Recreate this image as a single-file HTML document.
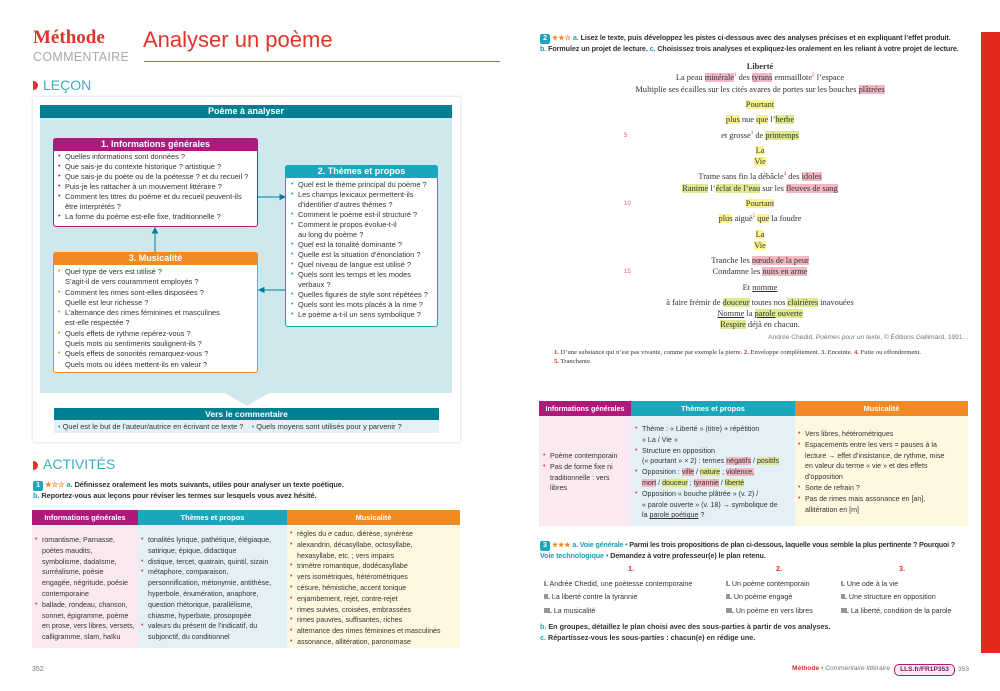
<!DOCTYPE html>
<html><head><meta charset="utf-8">
<style>
*{margin:0;padding:0;box-sizing:border-box}
body{width:1000px;height:691px;background:#fff;position:relative;overflow:hidden;font-family:"Liberation Sans",sans-serif;color:#333}
.a{position:absolute}
.s{font-size:7.4px;line-height:10px;color:#333}
.x{white-space:nowrap}
.nw li{white-space:nowrap}
ul{list-style:none}
li{position:relative;padding-left:7px}
li:before{content:"•";position:absolute;left:0;font-size:7px}
.m li:before{color:#b0197c}.t li:before{color:#1a9fb5}.o li:before{color:#f08a24}.r li:before{color:#e53b3b}
.hd{color:#fff;font-weight:bold;text-align:center}
.serif{font-family:"Liberation Serif",serif;font-size:8.4px;color:#333}
.pl{position:absolute;left:540px;width:440px;text-align:center}
.y{background:#fbf48e}.g{background:#dfe98f}.p{background:#f2b8c3}
.b{font-weight:bold}
.tc{color:#1a9fb5}
.ln{position:absolute;left:624px;font-size:6px;color:#d15a8d}
</style></head><body>

<div class="a" style="left:33px;top:27px;font-family:'Liberation Serif',serif;font-weight:bold;font-size:19px;color:#e2332a">Méthode</div>
<div class="a" style="left:33px;top:50px;font-size:12.5px;color:#aaa;letter-spacing:0.3px">COMMENTAIRE</div>
<div class="a" style="left:143px;top:27px;font-size:22px;color:#e2332a">Analyser un poème</div>
<div class="a" style="left:144px;top:61px;width:356px;height:1px;background:#e2554d"></div>
<div class="a" style="left:33px;top:81px;width:5px;height:9px;background:#e2332a;border-radius:0 5px 5px 0"></div>
<div class="a" style="left:43px;top:77px;font-size:14px;color:#3aaec2">LEÇON</div>

<div class="a" style="left:33px;top:97px;width:427px;height:345px;background:#fff;box-shadow:0 0 3px rgba(0,0,0,0.2)"></div>
<div class="a hd" style="left:40px;top:105px;width:412px;height:13px;background:#007f93;font-size:9px;line-height:13px">Poème à analyser</div>
<div class="a" style="left:40px;top:118px;width:412px;height:275px;background:#cfe8ee"></div>
<div class="a" style="left:225px;top:393px;width:0;height:0;border-left:22px solid transparent;border-right:22px solid transparent;border-top:13px solid #cfe8ee"></div>

<div class="a" style="left:53px;top:138px;width:205px;height:89px;background:#fff;border:1px solid #b0197c;border-radius:3px"></div>
<div class="a hd" style="left:53px;top:138px;width:205px;height:13px;background:#b0197c;font-size:9px;line-height:13px;border-radius:3px 3px 0 0">1. Informations générales</div>
<ul class="a s m" style="left:58px;top:152px;width:198px">
<li>Quelles informations sont données ?</li>
<li>Que sais-je du contexte historique ? artistique ?</li>
<li>Que sais-je du poète ou de la poétesse ? et du recueil ?</li>
<li>Puis-je les rattacher à un mouvement littéraire ?</li>
<li>Comment les titres du poème et du recueil peuvent-ils être interprétés ?</li>
<li>La forme du poème est-elle fixe, traditionnelle ?</li>
</ul>

<div class="a" style="left:285px;top:165px;width:153px;height:162px;background:#fff;border:1px solid #1a9fb5;border-radius:3px"></div>
<div class="a hd" style="left:285px;top:165px;width:153px;height:13px;background:#1aa6bd;font-size:9px;line-height:13px;border-radius:3px 3px 0 0">2. Thèmes et propos</div>
<ul class="a s t" style="left:291px;top:180px;width:146px">
<li>Quel est le thème principal du poème ?</li>
<li>Les champs lexicaux permettent-ils d’identifier d’autres thèmes ?</li>
<li>Comment le poème est-il structuré ?</li>
<li>Comment le propos évolue-t-il<br>au long du poème ?</li>
<li>Quel est la tonalité dominante ?</li>
<li>Quelle est la situation d’énonciation ?</li>
<li>Quel niveau de langue est utilisé ?</li>
<li>Quels sont les temps et les modes verbaux ?</li>
<li>Quelles figures de style sont répétées ?</li>
<li>Quels sont les mots placés à la rime ?</li>
<li>Le poème a-t-il un sens symbolique ?</li>
</ul>

<div class="a" style="left:53px;top:252px;width:205px;height:121px;background:#fff;border:1px solid #f08a24;border-radius:3px"></div>
<div class="a hd" style="left:53px;top:252px;width:205px;height:13px;background:#f08a24;font-size:9px;line-height:13px;border-radius:3px 3px 0 0">3. Musicalité</div>
<ul class="a s o" style="left:58px;top:267px;width:198px;line-height:10.3px">
<li>Quel type de vers est utilisé ?<br>S’agit-il de vers couramment employés ?</li>
<li>Comment les rimes sont-elles disposées ?<br>Quelle est leur richesse ?</li>
<li>L’alternance des rimes féminines et masculines<br>est-elle respectée ?</li>
<li>Quels effets de rythme repérez-vous ?<br>Quels mots ou sentiments soulignent-ils ?</li>
<li>Quels effets de sonorités remarquez-vous ?<br>Quels mots ou idées mettent-ils en valeur ?</li>
</ul>

<svg class="a" style="left:0;top:0" width="500" height="450">
<g stroke="#007f93" stroke-width="1" fill="#007f93">
<line x1="258" y1="197" x2="282" y2="197"/><polygon points="285,197 280,194.5 280,199.5"/>
<line x1="285" y1="290" x2="262" y2="290"/><polygon points="259,290 264,287.5 264,292.5"/>
<line x1="155" y1="252" x2="155" y2="231"/><polygon points="155,228 152.5,233 157.5,233"/>
</g></svg>

<div class="a hd" style="left:54px;top:408px;width:385px;height:12px;background:#007f93;font-size:8.5px;line-height:12px">Vers le commentaire</div>
<div class="a s" style="left:54px;top:420px;width:385px;height:13px;background:#e3f1f5;line-height:13px;padding-left:4px"><span style="color:#1a9fb5">•</span> Quel est le but de l’auteur/autrice en écrivant ce texte ? &nbsp;&nbsp;&nbsp;<span style="color:#1a9fb5">•</span> Quels moyens sont utilisés pour y parvenir ?</div>

<div class="a" style="left:33px;top:461px;width:5px;height:9px;background:#e2332a;border-radius:0 5px 5px 0"></div>
<div class="a" style="left:43px;top:456px;font-size:14px;color:#3aaec2">ACTIVITÉS</div>
<div class="a s b x" style="left:33px;top:480px;font-size:7.4px;letter-spacing:-0.1px"><span style="display:inline-block;width:10px;height:10px;background:#1aa6bd;color:#fff;text-align:center;border-radius:2px;font-size:7px;line-height:10px">1</span> <span style="color:#f08a24">★☆☆</span> <span class="tc">a.</span> Définissez oralement les mots suivants, utiles pour analyser un texte poétique.</div>
<div class="a s b x" style="left:33px;top:491px;font-size:7.4px;letter-spacing:-0.1px"><span class="tc">b.</span> Reportez-vous aux leçons pour réviser les termes sur lesquels vous avez hésité.</div>

<div class="a hd" style="left:32px;top:510px;width:106px;height:15px;background:#b0197c;font-size:7.4px;line-height:15px">Informations générales</div>
<div class="a hd" style="left:138px;top:510px;width:149px;height:15px;background:#1aa6bd;font-size:7.4px;line-height:15px">Thèmes et propos</div>
<div class="a hd" style="left:287px;top:510px;width:173px;height:15px;background:#f08a24;font-size:7.4px;line-height:15px">Musicalité</div>
<div class="a" style="left:32px;top:525px;width:106px;height:123px;background:#fbe9f2"></div>
<div class="a" style="left:138px;top:525px;width:149px;height:123px;background:#e3f1f7"></div>
<div class="a" style="left:287px;top:525px;width:173px;height:123px;background:#fdf9e0"></div>
<ul class="a s r nw" style="left:35px;top:535px;line-height:10.8px;font-size:7.1px">
<li>romantisme, Parnasse,<br>poètes maudits,<br>symbolisme, dadaïsme,<br>surréalisme, poésie<br>engagée, négritude, poésie<br>contemporaine</li>
<li>ballade, rondeau, chanson,<br>sonnet, épigramme, poème<br>en prose, vers libres, versets,<br>calligramme, slam, haïku</li>
</ul>
<ul class="a s r nw" style="left:141px;top:535px;line-height:10.8px;font-size:7.1px">
<li>tonalités lyrique, pathétique, élégiaque,<br>satirique, épique, didactique</li>
<li>distique, tercet, quatrain, quintil, sizain</li>
<li>métaphore, comparaison,<br>personnification, métonymie, antithèse,<br>hyperbole, énumération, anaphore,<br>question rhétorique, parallélisme,<br>chiasme, hyperbate, prosopopée</li>
<li>valeurs du présent de l’indicatif, du<br>subjonctif, du conditionnel</li>
</ul>
<ul class="a s r nw" style="left:290px;top:529px;line-height:10.8px;font-size:7.1px">
<li>règles du <i>e</i> caduc, diérèse, synérèse</li>
<li>alexandrin, décasyllabe, octosyllabe,<br>hexasyllabe, etc. ; vers impairs</li>
<li>trimètre romantique, dodécasyllabe</li>
<li>vers isométriques, hétérométriques</li>
<li>césure, hémistiche, accent tonique</li>
<li>enjambement, rejet, contre-rejet</li>
<li>rimes suivies, croisées, embrassées</li>
<li>rimes pauvres, suffisantes, riches</li>
<li>alternance des rimes féminines et masculines</li>
<li>assonance, allitération, paronomase</li>
</ul>
<div class="a" style="left:32px;top:666px;font-size:7px;color:#777">352</div>

<div class="a" style="left:981px;top:32px;width:19px;height:621px;background:#e2291b"></div>
<div class="a s b x" style="left:540px;top:33px;font-size:7.2px;letter-spacing:-0.1px"><span style="display:inline-block;width:10px;height:10px;background:#1aa6bd;color:#fff;text-align:center;border-radius:2px;font-size:7px;line-height:10px">2</span> <span style="color:#f08a24">★★☆</span> <span class="tc">a.</span> Lisez le texte, puis développez les pistes ci-dessous avec des analyses précises et en expliquant l’effet produit.</div>
<div class="a s b x" style="left:540px;top:44px;font-size:7.2px;letter-spacing:-0.1px"><span class="tc">b.</span> Formulez un projet de lecture. <span class="tc">c.</span> Choisissez trois analyses et expliquez-les oralement en les reliant à votre projet de lecture.</div>

<div class="serif">
<div class="pl b" style="top:62px">Liberté</div>
<div class="pl" style="top:73px">La peau <span class="p">minérale</span><sup style="color:#e2332a;font-size:5px">1</sup> des <span class="p">tyrans</span> emmaillote<sup style="color:#e2332a;font-size:5px">2</sup> l’espace</div>
<div class="pl" style="top:85px">Multiplie ses écailles sur les cités avares de portes sur les bouches <span class="p">plâtrées</span></div>
<div class="pl" style="top:100px"><span class="y">Pourtant</span></div>
<div class="pl" style="top:115px"><span class="y">plus</span> nue <span class="y">que</span> l’<span class="g">herbe</span></div>
<div class="pl" style="top:131px">et grosse<sup style="color:#e2332a;font-size:5px">3</sup> de <span class="g">printemps</span></div>
<div class="pl" style="top:146px"><span class="y">La</span></div>
<div class="pl" style="top:157px"><span class="y">Vie</span></div>
<div class="pl" style="top:172px">Trame sans fin la débâcle<sup style="color:#e2332a;font-size:5px">4</sup> des <span class="p">idoles</span></div>
<div class="pl" style="top:184px"><span class="g">Ranime</span> l’<span class="g">éclat de l’eau</span> sur les <span class="p">fleuves de sang</span></div>
<div class="pl" style="top:199px"><span class="y">Pourtant</span></div>
<div class="pl" style="top:214px"><span class="y">plus</span> aiguë<sup style="color:#e2332a;font-size:5px">5</sup> <span class="y">que</span> la foudre</div>
<div class="pl" style="top:230px"><span class="y">La</span></div>
<div class="pl" style="top:241px"><span class="y">Vie</span></div>
<div class="pl" style="top:256px">Tranche les <span class="p">nœuds de la peur</span></div>
<div class="pl" style="top:267px">Condamne les <span class="p">nuits en arme</span></div>
<div class="pl" style="top:283px">Et <u>nomme</u></div>
<div class="pl" style="top:298px">à faire frémir de <span class="g">douceur</span> toutes nos <span class="g">clairières</span> inavouées</div>
<div class="pl" style="top:309px"><u>Nomme</u> la <span class="g"><u>parole</u> ouverte</span></div>
<div class="pl" style="top:320px"><span class="g">Respire</span> déjà en chacun.</div>
</div>
<div class="ln" style="top:133px">5</div><div class="ln" style="top:201px">10</div><div class="ln" style="top:269px">15</div>
<div class="a" style="left:600px;top:334px;width:368px;text-align:right;font-size:6.6px;color:#777">Andrée Chedid, <i>Poèmes pour un texte</i>, © Éditions Gallimard, 1991. .</div>
<div class="a" style="left:554px;top:348px;width:420px;font-family:'Liberation Serif',serif;font-size:6.6px;line-height:9px;color:#333"><b style="color:#e2332a">1.</b> D’une substance qui n’est pas vivante, comme par exemple la pierre. <b style="color:#e2332a">2.</b> Enveloppe complètement. <b style="color:#e2332a">3.</b> Enceinte. <b style="color:#e2332a">4.</b> Fuite ou effondrement.<br><b style="color:#e2332a">5.</b> Tranchante.</div>

<div class="a hd" style="left:539px;top:401px;width:92px;height:15px;background:#b0197c;font-size:7.2px;line-height:15px">Informations générales</div>
<div class="a hd" style="left:631px;top:401px;width:164px;height:15px;background:#1aa6bd;font-size:7.4px;line-height:15px">Thèmes et propos</div>
<div class="a hd" style="left:795px;top:401px;width:173px;height:15px;background:#f08a24;font-size:7.4px;line-height:15px">Musicalité</div>
<div class="a" style="left:539px;top:416px;width:92px;height:110px;background:#fbe9f2"></div>
<div class="a" style="left:631px;top:416px;width:164px;height:110px;background:#e3f1f7"></div>
<div class="a" style="left:795px;top:416px;width:173px;height:110px;background:#fdf9e0"></div>
<ul class="a s r nw" style="left:543px;top:451px;line-height:10.8px;font-size:7.1px">
<li>Poème contemporain</li>
<li>Pas de forme fixe ni<br>traditionnelle : vers<br>libres</li>
</ul>
<ul class="a s r nw" style="left:635px;top:424px;line-height:10.8px;font-size:7.1px">
<li>Thème : « Liberté » (titre) + répétition<br>« La / Vie »</li>
<li>Structure en opposition<br>(« pourtant » × 2) : termes <span class="p">négatifs</span> / <span class="g">positifs</span></li>
<li>Opposition : <span class="p">ville</span> / <span class="g">nature</span> ; <span class="p">violence,</span><br><span class="p">mort</span> / <span class="g">douceur</span> ; <span class="p">tyrannie</span> / <span class="g">liberté</span></li>
<li>Opposition « bouche plâtrée » (v. 2) /<br>« parole ouverte » (v. 18) → symbolique de<br>la <u>parole poétique</u> ?</li>
</ul>
<ul class="a s r nw" style="left:798px;top:429px;line-height:10.8px;font-size:7.1px">
<li>Vers libres, hétérométriques</li>
<li>Espacements entre les vers = pauses à la<br>lecture → effet d’insistance, de rythme, mise<br>en valeur du terme « vie » et des effets<br>d’opposition</li>
<li>Sorte de refrain ?</li>
<li>Pas de rimes mais assonance en [an],<br>allitération en [m]</li>
</ul>

<div class="a s b x" style="left:540px;top:540px;font-size:7.2px;letter-spacing:-0.2px"><span style="display:inline-block;width:10px;height:10px;background:#1aa6bd;color:#fff;text-align:center;border-radius:2px;font-size:7px;line-height:10px">3</span> <span style="color:#f08a24">★★★</span> <span class="tc">a. Voie générale •</span> Parmi les trois propositions de plan ci-dessous, laquelle vous semble la plus pertinente ? Pourquoi ?</div>
<div class="a s b x" style="left:540px;top:551px;font-size:7.2px;letter-spacing:-0.1px"><span class="tc">Voie technologique •</span> Demandez à votre professeur(e) le plan retenu.</div>
<div class="a s b" style="left:628px;top:564px;color:#e2332a">1.</div>
<div class="a s b" style="left:776px;top:564px;color:#e2332a">2.</div>
<div class="a s b" style="left:899px;top:564px;color:#e2332a">3.</div>
<div class="a s" style="left:544px;top:578px;line-height:13.3px;font-size:7.1px"><b>I.</b> Andrée Chedid, une poétesse contemporaine<br><b>II.</b> La liberté contre la tyrannie<br><b>III.</b> La musicalité</div>
<div class="a s" style="left:726px;top:578px;line-height:13.3px;font-size:7.1px"><b>I.</b> Un poème contemporain<br><b>II.</b> Un poème engagé<br><b>III.</b> Un poème en vers libres</div>
<div class="a s" style="left:841px;top:578px;line-height:13.3px;font-size:7.1px"><b>I.</b> Une ode à la vie<br><b>II.</b> Une structure en opposition<br><b>III.</b> La liberté, condition de la parole</div>
<div class="a s b x" style="left:540px;top:622px;font-size:7.2px"><span class="tc">b.</span> En groupes, détaillez le plan choisi avec des sous-parties à partir de vos analyses.</div>
<div class="a s b x" style="left:540px;top:633px;font-size:7.2px"><span class="tc">c.</span> Répartissez-vous les sous-parties : chacun(e) en rédige une.</div>

<div class="a" style="left:700px;top:665px;width:190px;text-align:right;font-size:6.6px;color:#777"><b style="color:#e2332a">Méthode</b> • <i>Commentaire littéraire</i></div>
<div class="a" style="left:894px;top:664px;width:61px;height:12px;border:1px solid #b0197c;border-radius:5px;background:#fbe9f2;font-size:6.6px;font-weight:bold;color:#6b1a55;text-align:center;line-height:10px">LLS.fr/FR1P353</div>
<div class="a" style="left:958px;top:666px;font-size:6.6px;color:#777">353</div>
</body></html>
